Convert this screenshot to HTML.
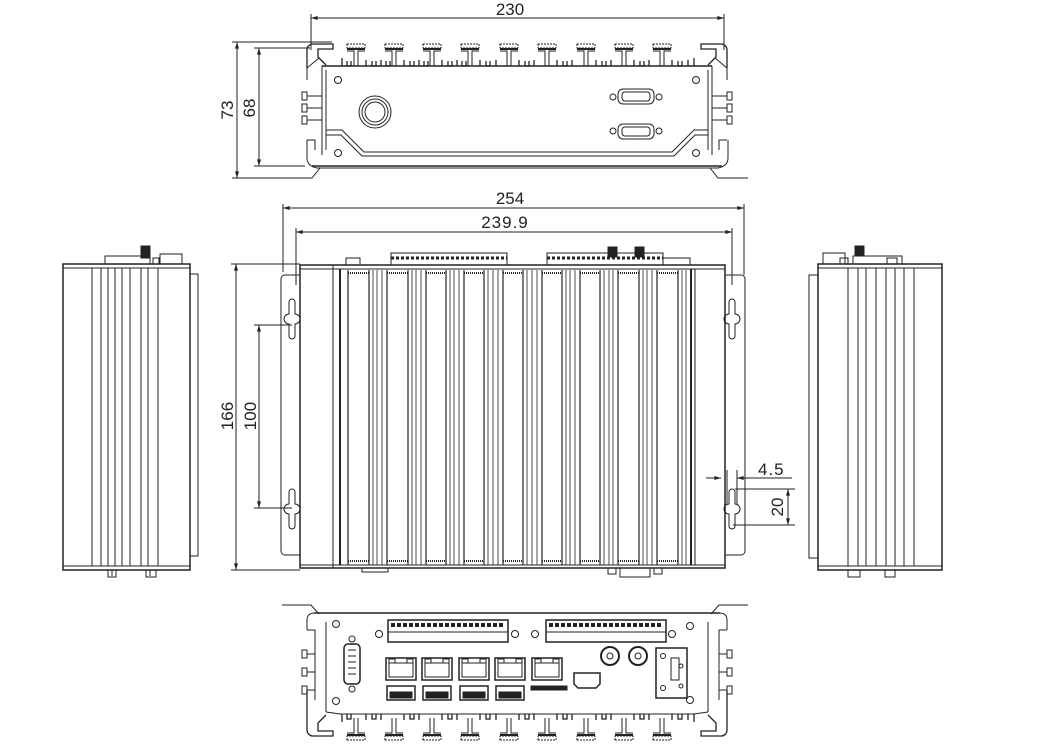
<!DOCTYPE html>
<html><head><meta charset="utf-8"><style>
html,body{margin:0;padding:0;background:#fff}
svg{display:block}
text{font-family:"Liberation Sans",sans-serif;fill:#222}
</style></head><body>
<svg width="1048" height="751" viewBox="0 0 1048 751" xmlns="http://www.w3.org/2000/svg">
<defs>
<marker id="a" viewBox="0 0 10 6" refX="10" refY="3" markerWidth="10" markerHeight="4" orient="auto-start-reverse"><path d="M0,0L10,3L0,6z" fill="#222"/></marker>
<g id="fin"><rect x="-9" y="0" width="18" height="4" fill="none" stroke="#222" stroke-width="1" stroke-dasharray="2 1"/><line x1="-9" y1="5" x2="9" y2="5" stroke="#222" stroke-width="2"/><path d="M-9,7H-2V22M2,22V7H9" fill="none" stroke="#222"/></g>
<g id="ks"><path d="M-3,0 a3,3 0 0 1 6,0 v12 a4,4 0 0 1 0,10 v12 a3,3 0 0 1 -6,0 v-12 a4,4 0 0 1 0,-10z" fill="none" stroke="#222"/></g>
<g id="rj"><rect x="0" y="0" width="30" height="22" fill="none" stroke="#222" stroke-width="1.5"/><rect x="3" y="5" width="24" height="14" fill="none" stroke="#222"/><rect x="3" y="1" width="6" height="4" fill="none" stroke="#222"/><rect x="21" y="1" width="6" height="4" fill="none" stroke="#222"/></g>
<g id="usb"><rect x="0" y="0" width="28" height="14" fill="none" stroke="#222" stroke-width="1.5"/><rect x="3" y="6" width="22" height="6" fill="#222"/></g>
</defs>
<g stroke="#222" stroke-width="1" fill="none">
<!-- TOP VIEW -->
<line x1="311" y1="18" x2="724" y2="18" marker-start="url(#a)" marker-end="url(#a)"/>
<line x1="311" y1="14" x2="311" y2="50"/><line x1="724" y1="14" x2="724" y2="50"/>
<line x1="232" y1="42" x2="332" y2="42"/>
<line x1="237" y1="42" x2="237" y2="178" marker-start="url(#a)" marker-end="url(#a)"/>
<line x1="232" y1="178" x2="300" y2="178"/>
<line x1="254" y1="48" x2="310" y2="48"/>
<line x1="259" y1="48" x2="259" y2="166" marker-start="url(#a)" marker-end="url(#a)"/>
<line x1="254" y1="166" x2="305" y2="166"/>
<path d="M307,68 V50 a6,6 0 0 1 6,-6 H333 v5 H318 v8 l8,8" stroke-width="1.3"/>
<path d="M727,68 V50 a6,6 0 0 0 -6,-6 H701 v5 H716 v8 l-8,8" stroke-width="1.3"/>
<path d="M307,68 l12,-10 M727,68 l-12,-10"/>
<line x1="322" y1="66" x2="712" y2="66" stroke-width="1.5"/>
<line x1="322" y1="66" x2="322" y2="155"/><line x1="712" y1="66" x2="712" y2="155"/>
<line x1="326" y1="70" x2="326" y2="150"/><line x1="708" y1="70" x2="708" y2="150"/>
<path d="M307,68 V80 M307,140 V158 q0,8 10,10 H718 q10,-2 10,-10 V140 M727,68V80"/>
<path d="M307,140 h8 v10 M727,140 h-8 v10"/>
<path d="M326,130 H342 L364,152 H672 L694,130 H708"/>
<path d="M326,135 H341 L362,156 H674 L695,135 H708"/>
<line x1="312" y1="166" x2="722" y2="166" stroke-width="1.5"/>
<path d="M282,178 H312 L320,168 M748,178 H718 L710,168"/>
<path d="M302,92h5v8h-5z M302,104h5v8h-5z M302,116h5v8h-5z M727,92h5v8h-5z M727,104h5v8h-5z M727,116h5v8h-5z"/>
<path d="M307,96h15 M307,108h15 M307,120h15 M712,96h15 M712,108h15 M712,120h15"/>
<circle cx="338" cy="80" r="3.5"/><circle cx="696" cy="80" r="3.5"/><circle cx="338" cy="153" r="3.5"/><circle cx="696" cy="153" r="3.5"/>
<circle cx="375" cy="112" r="16"/><circle cx="375" cy="112" r="13"/><circle cx="375" cy="112" r="10"/>
<rect x="618" y="89" width="36" height="15" rx="5"/><rect x="622" y="92" width="28" height="9" rx="3"/><circle cx="613" cy="97" r="3"/><circle cx="659" cy="97" r="3"/>
<rect x="618" y="124" width="36" height="15" rx="5"/><rect x="622" y="127" width="28" height="9" rx="3"/><circle cx="613" cy="131" r="3"/><circle cx="659" cy="131" r="3"/>
<g>
<use href="#fin" x="356" y="44"/><use href="#fin" x="394" y="44"/><use href="#fin" x="432" y="44"/><use href="#fin" x="470" y="44"/><use href="#fin" x="509" y="44"/><use href="#fin" x="547" y="44"/><use href="#fin" x="586" y="44"/><use href="#fin" x="624" y="44"/><use href="#fin" x="662" y="44"/>
</g>
<path stroke-width="1.3" d="M342,58v8 M347,61v5h4v-5 M366,60v6 M372,61v5h4v-5 M381,60v6 M386,61v5h4v-5 M404,60v6 M410,61v5h4v-5 M419,60v6 M424,61v5h4v-5 M442,60v6 M448,61v5h4v-5 M457,60v6 M462,61v5h4v-5 M480,60v6 M486,61v5h4v-5 M496,60v6 M519,60v6 M525,61v5h4v-5 M534,60v6 M557,60v6 M563,61v5h4v-5 M572,60v6 M596,60v6 M602,61v5h4v-5 M611,60v6 M634,60v6 M640,61v5h4v-5 M649,60v6 M672,60v6 M678,61v5h4v-5 M688,60v6 M694,58v8"/>

<!-- MIDDLE VIEW -->
<line x1="283" y1="208" x2="744" y2="208" marker-start="url(#a)" marker-end="url(#a)"/>
<line x1="283" y1="204" x2="283" y2="272"/><line x1="744" y1="204" x2="744" y2="275"/>
<line x1="296" y1="232" x2="732" y2="232" marker-start="url(#a)" marker-end="url(#a)"/>
<line x1="296" y1="228" x2="296" y2="285"/><line x1="732" y1="228" x2="732" y2="285"/>
<line x1="231" y1="264" x2="300" y2="264"/><line x1="231" y1="570" x2="300" y2="570"/>
<line x1="236" y1="264" x2="236" y2="570" marker-start="url(#a)" marker-end="url(#a)"/>
<line x1="254" y1="325" x2="292" y2="325"/><line x1="254" y1="508" x2="292" y2="508"/>
<line x1="259" y1="325" x2="259" y2="508" marker-start="url(#a)" marker-end="url(#a)"/>
<path d="M300,275 H285 a4,4 0 0 0 -4,4 V551 a4,4 0 0 0 4,4 H300"/>
<path d="M725,275 H741 a4,4 0 0 1 4,4 V551 a4,4 0 0 1 -4,4 H725"/>
<use href="#ks" x="292" y="302"/><use href="#ks" x="292" y="492"/>
<use href="#ks" x="732" y="302"/><use href="#ks" x="732" y="492"/>
<rect x="300" y="265" width="425" height="303" stroke-width="1.5"/>
<line x1="300" y1="269" x2="725" y2="269"/><line x1="300" y1="565" x2="725" y2="565"/>
<line x1="333" y1="265" x2="333" y2="568"/><line x1="340" y1="269" x2="340" y2="565" stroke-width="2"/>
<line x1="691" y1="269" x2="691" y2="565" stroke-width="2"/><line x1="695" y1="269" x2="695" y2="565"/>
<g stroke-width="1.2">
<path d="M348,270V565 M369,270V565 M387,270V565 M408,270V565 M426,270V565 M446,270V565 M464,270V565 M484,270V565 M503,270V565 M523,270V565 M542,270V565 M562,270V565 M580,270V565 M600,270V565 M618,270V565 M639,270V565 M657,270V565 M678,270V565"/>
<path d="M373,270V565 M377,270V565 M382,270V565 M412,270V565 M416,270V565 M421,270V565 M450,270V565 M454,270V565 M459,270V565 M488,270V565 M493,270V565 M498,270V565 M527,270V565 M532,270V565 M537,270V565 M566,270V565 M570,270V565 M575,270V565 M604,270V565 M609,270V565 M613,270V565 M643,270V565 M647,270V565 M652,270V565 M682,270V565 M686,270V565" stroke-width="0.8"/>
<path d="M348,273H369 M387,273H408 M426,273H446 M464,273H484 M503,273H523 M542,273H562 M580,273H600 M618,273H639 M657,273H678 M348,561H369 M387,561H408 M426,561H446 M464,561H484 M503,561H523 M542,561H562 M580,561H600 M618,561H639 M657,561H678" stroke-width="2" stroke-dasharray="1 1"/>
</g>
<rect x="391" y="253" width="116" height="12"/><path d="M391,258H507" stroke-dasharray="3 2" stroke-width="3"/>
<rect x="547" y="253" width="116" height="12"/><path d="M547,258H663" stroke-dasharray="3 2" stroke-width="3"/>
<rect x="608" y="247" width="9" height="10" fill="#222"/><rect x="635" y="247" width="9" height="10" fill="#222"/>
<rect x="663" y="258" width="27" height="7"/><rect x="346" y="258" width="14" height="7"/>
<rect x="362" y="568" width="26" height="4"/><rect x="620" y="568" width="30" height="9"/><rect x="608" y="568" width="8" height="6"/><rect x="654" y="568" width="8" height="6"/>
<line x1="706" y1="478" x2="721" y2="478" marker-end="url(#a)"/><line x1="745" y1="478" x2="792" y2="478"/>
<line x1="750" y1="478" x2="737" y2="478" marker-end="url(#a)"/>
<line x1="727" y1="470" x2="727" y2="505"/><line x1="737" y1="470" x2="737" y2="505"/>
<line x1="735" y1="489" x2="795" y2="489"/><line x1="733" y1="525" x2="795" y2="525"/>
<line x1="788" y1="489" x2="788" y2="525" marker-start="url(#a)" marker-end="url(#a)"/>

<!-- LEFT SIDE -->
<rect x="63" y="264" width="127" height="306" stroke-width="1.5"/>
<line x1="63" y1="268" x2="190" y2="268"/><line x1="63" y1="566" x2="190" y2="566"/>
<rect x="190" y="274" width="8" height="282"/>
<path d="M92,268V566 M101,268V566 M108,268V566 M115,268V566 M122,268V566 M130,268V566 M141,268V566 M148,268V566 M158,268V566"/>
<path d="M105,264V256H150V264 M160,264V254H182V264"/><rect x="141" y="246" width="9" height="12" fill="#222"/><rect x="153" y="258" width="6" height="6"/>
<path d="M108,570v7h8v-7 M112,570v6 M146,570v7h10v-7 M150,570v6"/>

<!-- RIGHT SIDE -->
<rect x="818" y="264" width="124" height="306" stroke-width="1.5"/>
<line x1="818" y1="268" x2="942" y2="268"/><line x1="818" y1="566" x2="942" y2="566"/>
<rect x="809" y="275" width="9" height="283"/>
<path d="M848,268V566 M858,268V566 M866,268V566 M876,268V566 M886,268V566 M895,268V566 M904,268V566 M914,268V566"/>
<path d="M823,264V253H845V264 M853,264V256H902V264"/><rect x="855" y="246" width="9" height="10" fill="#222"/><rect x="840" y="258" width="8" height="6"/><rect x="887" y="258" width="10" height="6"/>
<path d="M848,570v7h12v-7 M885,570v7h10v-7"/>

<!-- BOTTOM VIEW -->
<path d="M282,605 H311 L319,614 M748,605 H719 L711,614"/>
<line x1="314" y1="613" x2="720" y2="613" stroke-width="1.5"/>
<path d="M307,630 V620 q0,-7 8,-7 M727,630V620 q0,-7 -8,-7"/>
<path d="M307,690V730 a6,6 0 0 0 6,6 H333 v-5 H318 v-8 l8,-8 M727,690V730 a6,6 0 0 1 -6,6 H701 v-5 H716 v-8 l-8,-8" stroke-width="1.3"/>
<path d="M307,630 h8 v8 M727,630 h-8 v8 M315,638V700 M719,638V700"/>
<path d="M326,622V712 M708,622V712"/>
<path d="M326,712 L340,714 H694 L708,712"/>
<path d="M302,650h5v8h-5z M302,668h5v8h-5z M302,686h5v8h-5z M727,650h5v8h-5z M727,668h5v8h-5z M727,686h5v8h-5z M307,654h8 M307,672h8 M307,690h8 M719,654h8 M719,672h8 M719,690h8"/>
<g transform="translate(0,760) scale(1,-1)">
<use href="#fin" x="356" y="20"/><use href="#fin" x="394" y="20"/><use href="#fin" x="432" y="20"/><use href="#fin" x="470" y="20"/><use href="#fin" x="509" y="20"/><use href="#fin" x="547" y="20"/><use href="#fin" x="586" y="20"/><use href="#fin" x="624" y="20"/><use href="#fin" x="662" y="20"/>
</g>
<path stroke-width="1.3" d="M342,714v8 M347,714v5h4v-5 M366,714v6 M372,714v5h4v-5 M381,714v6 M404,714v6 M410,714v5h4v-5 M419,714v6 M442,714v6 M448,714v5h4v-5 M457,714v6 M480,714v6 M486,714v5h4v-5 M496,714v6 M519,714v6 M525,714v5h4v-5 M534,714v6 M557,714v6 M563,714v5h4v-5 M572,714v6 M596,714v6 M602,714v5h4v-5 M611,714v6 M634,714v6 M640,714v5h4v-5 M649,714v6 M672,714v6 M678,714v5h4v-5 M688,714v6 M694,714v8"/>
<circle cx="336" cy="624" r="3.5"/><circle cx="336" cy="701" r="3.5"/><circle cx="690" cy="626" r="3.5"/><circle cx="690" cy="700" r="3.5"/>
<circle cx="379" cy="634" r="3.5"/><circle cx="515" cy="634" r="3.5"/><circle cx="535" cy="634" r="3.5"/><circle cx="672" cy="634" r="3.5"/>
<rect x="388" y="620" width="120" height="22" stroke-width="1.5"/><line x1="388" y1="632" x2="508" y2="632"/><path d="M391,625H505" stroke-dasharray="4 2" stroke-width="4"/>
<rect x="546" y="620" width="120" height="22" stroke-width="1.5"/><line x1="546" y1="632" x2="666" y2="632"/><path d="M549,625H663" stroke-dasharray="4 2" stroke-width="4"/>
<rect x="344" y="644" width="16" height="40" rx="4" stroke-width="1.5"/><circle cx="352" cy="639" r="3"/><circle cx="352" cy="689" r="3"/><path d="M348,650h8M348,656h8M348,662h8M348,668h8M348,674h8"/>
<use href="#rj" x="386" y="658"/><use href="#rj" x="422" y="658"/><use href="#rj" x="459" y="658"/><use href="#rj" x="495" y="658"/><use href="#rj" x="532" y="658"/>
<use href="#usb" x="387" y="686"/><use href="#usb" x="423" y="686"/><use href="#usb" x="460" y="686"/><use href="#usb" x="496" y="686"/>
<rect x="531" y="686" width="36" height="4" fill="#222"/>
<path d="M574,673H600V684L596,688H578L574,684Z" stroke-width="1.5"/>
<circle cx="610" cy="656" r="9" stroke-width="2"/><circle cx="610" cy="656" r="3"/><circle cx="638" cy="656" r="9" stroke-width="2"/><circle cx="638" cy="656" r="3"/>
<rect x="656" y="648" width="31" height="50" stroke-width="1.5"/><rect x="671" y="658" width="8" height="22"/><circle cx="663" cy="656" r="2.5"/><circle cx="663" cy="688" r="2.5"/><circle cx="681" cy="666" r="2"/><circle cx="681" cy="686" r="2"/>
</g>
<text x="510" y="15" font-size="17" text-anchor="middle">230</text>
<text x="510" y="204" font-size="17" text-anchor="middle">254</text>
<text x="505" y="228" font-size="17" text-anchor="middle" letter-spacing="1">239.9</text>
<text transform="translate(233,110) rotate(-90)" font-size="17" text-anchor="middle">73</text>
<text transform="translate(255,108) rotate(-90)" font-size="17" text-anchor="middle">68</text>
<text transform="translate(233,416) rotate(-90)" font-size="17" text-anchor="middle">166</text>
<text transform="translate(256,416) rotate(-90)" font-size="17" text-anchor="middle">100</text>
<text x="758" y="475" font-size="17" letter-spacing="1">4.5</text>
<text transform="translate(783,507) rotate(-90)" font-size="17" text-anchor="middle">20</text>
</svg>
</body></html>
